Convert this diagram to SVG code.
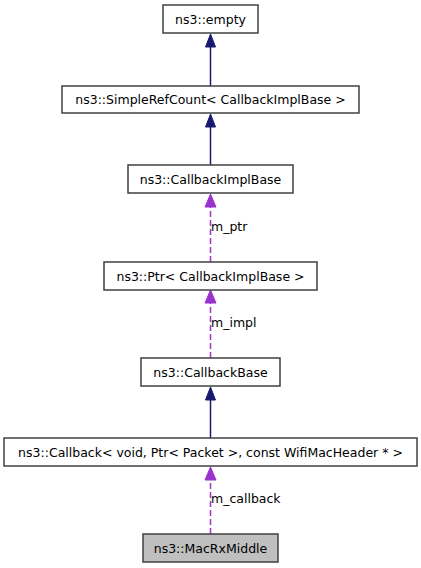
<svg xmlns="http://www.w3.org/2000/svg" width="421" height="568" viewBox="0 0 421 568">
<style>
.box{fill:#ffffff;stroke:#404040;stroke-width:1.5}
.cur{fill:#bfbfbf;stroke:#404040;stroke-width:1.5}
.t{font-family:"DejaVu Sans",sans-serif;font-size:12.5px;fill:#000000;text-anchor:middle}
.lbl{font-family:"DejaVu Sans",sans-serif;font-size:12.5px;fill:#000000}
.inh{stroke:#191970;stroke-width:1.5;fill:none}
.use{stroke:#9a32cd;stroke-width:1.5;fill:none;stroke-dasharray:6,3}
.hb{fill:#191970;stroke:#191970}
.hp{fill:#9a32cd;stroke:#9a32cd}
</style>
<rect width="421" height="568" fill="#ffffff"/>
<g id="connectors">
<line class="inh" x1="210.5" y1="86" x2="210.5" y2="47"/>
<polygon class="hb" points="210.5,34 205.5,47 215.5,47"/>
<line class="inh" x1="210.5" y1="165" x2="210.5" y2="127"/>
<polygon class="hb" points="210.5,114 205.5,127 215.5,127"/>
<line class="use" x1="210.5" y1="262" x2="210.5" y2="207"/>
<polygon class="hp" points="210.5,194 205,207 216,207"/>
<text class="lbl" x="211" y="231">m_ptr</text>
<line class="use" x1="210.5" y1="358" x2="210.5" y2="303"/>
<polygon class="hp" points="210.5,290 205,303 216,303"/>
<text class="lbl" x="211" y="327">m_impl</text>
<line class="inh" x1="210.5" y1="438" x2="210.5" y2="400"/>
<polygon class="hb" points="210.5,387 205.5,400 215.5,400"/>
<line class="use" x1="210.5" y1="534" x2="210.5" y2="480"/>
<polygon class="hp" points="210.5,467 205,480 216,480"/>
<text class="lbl" x="211" y="502.5">m_callback</text>
</g>
<g id="node-empty">
<rect class="box" x="163" y="5" width="95" height="28"/>
<text class="t" x="210.5" y="23.5">ns3::empty</text>
</g>
<g id="node-simplerefcount">
<rect class="box" x="62" y="86" width="297" height="27"/>
<text class="t" x="210.5" y="104">ns3::SimpleRefCount&lt; CallbackImplBase &gt;</text>
</g>
<g id="node-callbackimplbase">
<rect class="box" x="128" y="165" width="165" height="28"/>
<text class="t" x="210.5" y="183.5">ns3::CallbackImplBase</text>
</g>
<g id="node-ptr">
<rect class="box" x="104" y="262" width="213" height="28"/>
<text class="t" x="210.5" y="280.5">ns3::Ptr&lt; CallbackImplBase &gt;</text>
</g>
<g id="node-callbackbase">
<rect class="box" x="141" y="358" width="139" height="28"/>
<text class="t" x="210.5" y="376.5">ns3::CallbackBase</text>
</g>
<g id="node-callback">
<rect class="box" x="4" y="438" width="413" height="28"/>
<text class="t" x="210.5" y="456.5">ns3::Callback&lt; void, Ptr&lt; Packet &gt;, const WifiMacHeader * &gt;</text>
</g>
<g id="node-macrxmiddle">
<rect class="cur" x="143" y="534" width="135" height="28"/>
<text class="t" x="210.5" y="552.5">ns3::MacRxMiddle</text>
</g>
</svg>
